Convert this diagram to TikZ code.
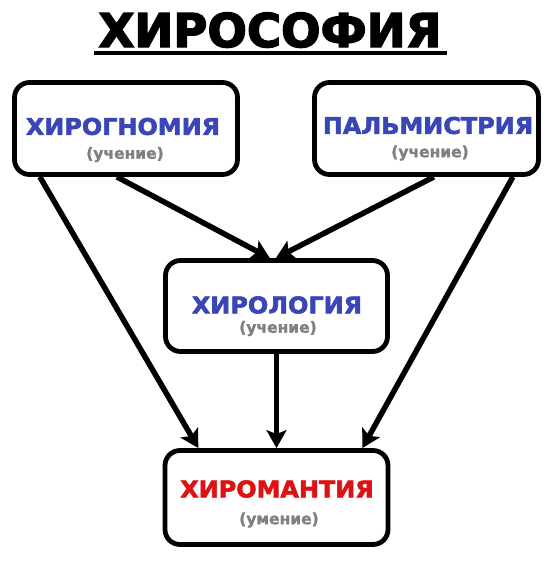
\documentclass[tikz,border=0pt]{standalone}
\usepackage{fontspec}
\setmainfont{DejaVu Sans}
\newfontfamily\hfont{DejaVu Sans}[BoldFeatures={FakeBold=2.5, FakeStretch=1.04}]
\newfontfamily\sfnt{DejaVu Sans}[BoldFeatures={FakeBold=1.5}]
\newfontfamily\tfont{DejaVu Sans}[BoldFeatures={FakeBold=3}]
\usetikzlibrary{arrows.meta,calc}
\definecolor{hblue}{RGB}{58,70,182}
\definecolor{hred}{RGB}{222,18,18}
\definecolor{hgray}{RGB}{128,128,128}
\tikzset{
  box/.style={draw=black, line width=4.8pt, rounded corners=15pt, fill=white,
    minimum width=223pt, minimum height=92pt, inner sep=0pt},
  head/.style={font=\hfont\fontsize{23}{24}\selectfont\bfseries, inner sep=0pt, anchor=center},
  sub/.style={font=\sfnt\fontsize{15.5}{17}\selectfont\bfseries, text=hgray, inner sep=0pt, anchor=center},
  conn/.style={line width=5.5pt, -{Stealth[length=18pt,width=20pt,inset=4pt]}},
}
\begin{document}
\begin{tikzpicture}[x=1pt,y=-1pt]
\useasboundingbox (0,0) rectangle (554,562);
\fill[white] (0,0) rectangle (554,562);
% title
\node[font=\tfont\fontsize{46.5}{50}\selectfont\bfseries, inner sep=0pt, anchor=base] (ttl) at (270,47) {ХИРОСОФИЯ};
\draw[line width=4.5pt] ([shift={(-4,6)}]ttl.base west) -- ([shift={(5,6)}]ttl.base east);
% boxes
\node[box] (hg) at (126,128.5) {};
\node[box, minimum width=224pt] (pm) at (426.5,128.5) {};
\node[box, minimum width=222pt, minimum height=91pt] (hl) at (276.5,306) {};
\node[box, minimum height=94pt] (hm) at (276.5,497.5) {};
% texts
\node[head, text=hblue] (hgt) at (123,126.5) {ХИРОГНОМИЯ};
\node[sub] (hgs) at (125,154.5) {(учение)};
\node[head, text=hblue] (pmt) at (428,125.5) {ПАЛЬМИСТРИЯ};
\node[sub] (pms) at (430,153) {(учение)};
\node[head, text=hblue] (hlt) at (277,305) {ХИРОЛОГИЯ};
\node[sub] (hls) at (278,328.5) {(учение)};
\node[head, text=hred] (hmt) at (277,489) {ХИРОМАНТИЯ};
\node[sub] (hms) at (279,520) {(умение)};
% connectors
\draw[conn] ([xshift=104.75pt]hg.south west) -- ([xshift=106.75pt]hl.north west);
\draw[conn] ([xshift=121.75pt]pm.south west) -- ([xshift=112.75pt]hl.north west);
\draw[conn] ([xshift=27.75pt]hg.south west) -- ([xshift=35.75pt]hm.north west);
\draw[conn] ([xshift=200.75pt]pm.south west) -- ([xshift=199.75pt]hm.north west);
\draw[conn] (hl.south) -- (hm.north);
\end{tikzpicture}
\end{document}
